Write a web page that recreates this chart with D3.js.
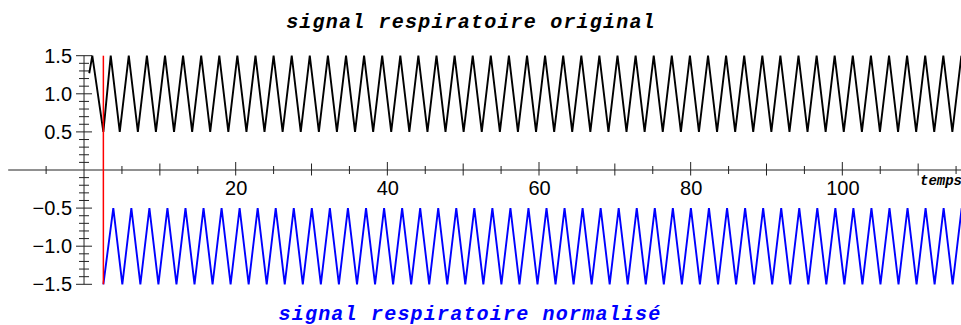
<!DOCTYPE html>
<html>
<head>
<meta charset="utf-8">
<script src="https://cdn.jsdelivr.net/npm/d3@7"></script>
<style>
  html, body { margin: 0; padding: 0; background: #fff; }
  svg { display: block; }
  .tick-label { font-family: "Liberation Sans", Arial, sans-serif; font-size: 20px; fill: #000; }
  .title { font-family: "Liberation Mono", "Courier New", monospace; font-weight: bold; font-style: italic; }
</style>
</head>
<body>
<svg id="chart" width="961" height="325"></svg>
<script>
// Breathing signal as recorded: vertex times (s) and amplitudes
const originalTime = [
  0.69, 1.09, 2.55,
  3.52, 4.71, 5.90, 7.10, 8.29, 9.48, 10.68, 11.87, 13.06, 14.26,
  15.45, 16.64, 17.84, 19.03, 20.22, 21.42, 22.61, 23.80, 25.00, 26.19,
  27.39, 28.58, 29.77, 30.97, 32.16, 33.35, 34.55, 35.74, 36.93, 38.13,
  39.32, 40.51, 41.71, 42.90, 44.09, 45.29, 46.48, 47.67, 48.87, 50.06,
  51.26, 52.45, 53.64, 54.84, 56.03, 57.22, 58.42, 59.61, 60.80, 62.00,
  63.19, 64.38, 65.58, 66.77, 67.96, 69.16, 70.35, 71.54, 72.74, 73.93,
  75.13, 76.32, 77.51, 78.71, 79.90, 81.09, 82.29, 83.48, 84.67, 85.87,
  87.06, 88.25, 89.45, 90.64, 91.83, 93.03, 94.22, 95.41, 96.61, 97.80,
  98.99, 100.19, 101.38, 102.58, 103.77, 104.96, 106.16, 107.35, 108.54, 109.74,
  110.93, 112.12, 113.32, 114.51, 115.70
];
const originalLevel = [
  1.27, 1.5, 0.5,
  1.5, 0.5, 1.5, 0.5, 1.5, 0.5, 1.5, 0.5, 1.5, 0.5,
  1.5, 0.5, 1.5, 0.5, 1.5, 0.5, 1.5, 0.5, 1.5, 0.5,
  1.5, 0.5, 1.5, 0.5, 1.5, 0.5, 1.5, 0.5, 1.5, 0.5,
  1.5, 0.5, 1.5, 0.5, 1.5, 0.5, 1.5, 0.5, 1.5, 0.5,
  1.5, 0.5, 1.5, 0.5, 1.5, 0.5, 1.5, 0.5, 1.5, 0.5,
  1.5, 0.5, 1.5, 0.5, 1.5, 0.5, 1.5, 0.5, 1.5, 0.5,
  1.5, 0.5, 1.5, 0.5, 1.5, 0.5, 1.5, 0.5, 1.5, 0.5,
  1.5, 0.5, 1.5, 0.5, 1.5, 0.5, 1.5, 0.5, 1.5, 0.5,
  1.5, 0.5, 1.5, 0.5, 1.5, 0.5, 1.5, 0.5, 1.5, 0.5,
  1.5, 0.5, 1.5, 0.5, 1.5
];

// Normalised breathing signal: vertex times (s) and amplitudes
const normalizedTime = [
  2.55,
  3.86, 5.05, 6.24, 7.43, 8.62, 9.81, 11.00, 12.19, 13.38, 14.57,
  15.76, 16.95, 18.14, 19.33, 20.52, 21.71, 22.90, 24.09, 25.28, 26.47,
  27.66, 28.85, 30.04, 31.23, 32.42, 33.61, 34.80, 36.00, 37.19, 38.38,
  39.57, 40.76, 41.95, 43.14, 44.33, 45.52, 46.71, 47.90, 49.09, 50.28,
  51.47, 52.66, 53.85, 55.04, 56.23, 57.42, 58.61, 59.80, 60.99, 62.18,
  63.37, 64.56, 65.75, 66.94, 68.13, 69.32, 70.51, 71.70, 72.89, 74.08,
  75.27, 76.46, 77.65, 78.84, 80.03, 81.22, 82.41, 83.61, 84.80, 85.99,
  87.18, 88.37, 89.56, 90.75, 91.94, 93.13, 94.32, 95.51, 96.70, 97.89,
  99.08, 100.27, 101.46, 102.65, 103.84, 105.03, 106.22, 107.41, 108.60, 109.79,
  110.98, 112.17, 113.36, 114.55, 115.74
];
const normalizedLevel = [
  -1.5,
  -0.5, -1.5, -0.5, -1.5, -0.5, -1.5, -0.5, -1.5, -0.5, -1.5,
  -0.5, -1.5, -0.5, -1.5, -0.5, -1.5, -0.5, -1.5, -0.5, -1.5,
  -0.5, -1.5, -0.5, -1.5, -0.5, -1.5, -0.5, -1.5, -0.5, -1.5,
  -0.5, -1.5, -0.5, -1.5, -0.5, -1.5, -0.5, -1.5, -0.5, -1.5,
  -0.5, -1.5, -0.5, -1.5, -0.5, -1.5, -0.5, -1.5, -0.5, -1.5,
  -0.5, -1.5, -0.5, -1.5, -0.5, -1.5, -0.5, -1.5, -0.5, -1.5,
  -0.5, -1.5, -0.5, -1.5, -0.5, -1.5, -0.5, -1.5, -0.5, -1.5,
  -0.5, -1.5, -0.5, -1.5, -0.5, -1.5, -0.5, -1.5, -0.5, -1.5,
  -0.5, -1.5, -0.5, -1.5, -0.5, -1.5, -0.5, -1.5, -0.5, -1.5,
  -0.5, -1.5, -0.5, -1.5, -0.5
];

// Start marker (s) and its vertical span
const startMarkerTime = 2.55;
const startMarkerSpan = [-1.5, 1.5];

// Axis ranges and labels
const timeDomain = [-10, 115.65];
const levelDomain = [-1.5, 1.5];
const xTickLabels = [20, 40, 60, 80, 100];
const yTickLabels = [1.5, 1.0, 0.5, -0.5, -1.0, -1.5];
const xAxisTitle = "temps";
const topTitle = "signal respiratoire original";
const bottomTitle = "signal respiratoire normalisé";

const svg = d3.select("#chart");

const x = d3.scaleLinear().domain(timeDomain).range([8.2, 961]);
const y = d3.scaleLinear().domain(levelDomain).range([284.3, 55.7]);

const axisColor = "#222";
const y0 = y(0), x0 = x(0);

// Horizontal (time) axis
svg.append("line")
  .attr("x1", x(timeDomain[0])).attr("x2", x(timeDomain[1]))
  .attr("y1", y0).attr("y2", y0)
  .attr("stroke", axisColor).attr("stroke-width", 1);

// Time ticks: every 5 s, longer every 10 s and 20 s
const xTickVals = d3.range(-5, timeDomain[1], 5).filter(v => v !== 0);
svg.append("g").selectAll("line").data(xTickVals).join("line")
  .attr("x1", d => x(d)).attr("x2", d => x(d))
  .attr("y1", d => d % 20 === 0 ? y0 - 8 : d % 10 === 0 ? y0 - 6.5 : y0 - 4)
  .attr("y2", d => d % 10 === 0 ? y0 + 5.5 : y0 + 4)
  .attr("stroke", axisColor).attr("stroke-width", 1);

const xAxis = d3.axisBottom(x).tickValues(xTickLabels).tickSize(0).tickPadding(10.5)
  .tickFormat(d3.format("d"));
const gx = svg.append("g").attr("transform", `translate(0,${y0})`).call(xAxis);
gx.select(".domain").remove();
gx.selectAll("text").attr("class", "tick-label").attr("font-size", null).attr("font-family", null);

// Vertical (level) axis
svg.append("line")
  .attr("x1", x0).attr("x2", x0)
  .attr("y1", y(levelDomain[1])).attr("y2", y(levelDomain[0]))
  .attr("stroke", axisColor).attr("stroke-width", 1);

const yTickVals = d3.range(-15, 16).filter(v => v !== 0).map(v => v / 10);
svg.append("g").selectAll("line").data(yTickVals).join("line")
  .attr("x1", d => Math.abs(Math.round(d * 10)) % 5 === 0 ? x0 - 8 : x0 - 5)
  .attr("x2", d => Math.abs(Math.round(d * 10)) % 5 === 0 ? x0 + 8 : x0 + 5)
  .attr("y1", d => y(d)).attr("y2", d => y(d))
  .attr("stroke", axisColor).attr("stroke-width", 1);

const yAxis = d3.axisLeft(y).tickValues(yTickLabels).tickSize(0).tickPadding(12)
  .tickFormat(d3.format(".1f"));
const gy = svg.append("g").attr("transform", `translate(${x0},0)`).call(yAxis);
gy.select(".domain").remove();
gy.selectAll("text").attr("class", "tick-label").attr("font-size", null).attr("font-family", null);

// Signals
const line = d3.line().x(d => x(d[0])).y(d => y(d[1]));

svg.append("path")
  .datum(originalTime.map((t, i) => [t, originalLevel[i]]))
  .attr("d", line)
  .attr("fill", "none").attr("stroke", "#000").attr("stroke-width", 1.9);

svg.append("path")
  .datum(normalizedTime.map((t, i) => [t, normalizedLevel[i]]))
  .attr("d", line)
  .attr("fill", "none").attr("stroke", "#0000ff").attr("stroke-width", 1.9);

// Start marker
svg.append("line")
  .attr("x1", x(startMarkerTime)).attr("x2", x(startMarkerTime))
  .attr("y1", y(startMarkerSpan[1])).attr("y2", y(startMarkerSpan[0]))
  .attr("stroke", "#ff0000").attr("stroke-width", 1.5);

// Titles
svg.append("text").attr("class", "title")
  .attr("x", 471).attr("y", 28)
  .attr("text-anchor", "middle")
  .attr("font-size", 20).attr("letter-spacing", 1.2)
  .attr("fill", "#000")
  .text(topTitle);

svg.append("text").attr("class", "title")
  .attr("x", 470).attr("y", 320)
  .attr("text-anchor", "middle")
  .attr("font-size", 20).attr("letter-spacing", 1.2)
  .attr("fill", "#0000ff")
  .text(bottomTitle);

svg.append("text").attr("class", "title")
  .attr("x", 920).attr("y", 185)
  .attr("font-size", 14)
  .attr("fill", "#000")
  .text(xAxisTitle);
</script>
</body>
</html>
